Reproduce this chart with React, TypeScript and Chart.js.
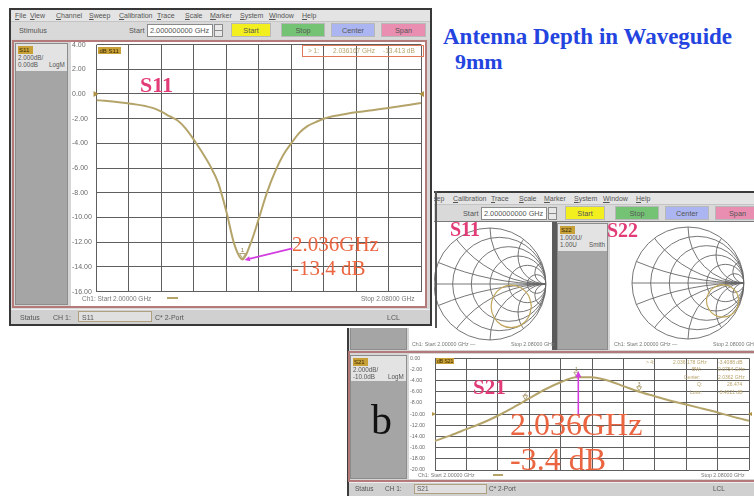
import React, { useEffect, useRef } from "react";
import { Chart, registerables } from "chart.js";
Chart.register(...registerables);

// ---------------- DATA ----------------
const s11Freq = [
  2.000, 2.002, 2.004, 2.006, 2.008, 2.010, 2.012, 2.014, 2.016, 2.018,
  2.020, 2.022, 2.024, 2.026, 2.028, 2.030, 2.032, 2.034, 2.036, 2.038,
  2.040, 2.042, 2.044, 2.046, 2.048, 2.050, 2.052, 2.054, 2.056, 2.058,
  2.060, 2.062, 2.064, 2.066, 2.068, 2.070, 2.072, 2.074, 2.076, 2.078, 2.080,
];
const s11Db = [
  -0.50, -0.55, -0.61, -0.68, -0.76, -0.86, -0.98, -1.14, -1.42, -1.80,
  -2.15, -2.80, -3.70, -4.70, -5.80, -7.20, -9.50, -12.20, -13.40, -12.10,
  -10.10, -8.00, -6.30, -4.95, -4.00, -3.15, -2.60, -2.28, -2.00, -1.82,
  -1.70, -1.58, -1.48, -1.40, -1.31, -1.22, -1.13, -1.04, -0.94, -0.83, -0.72,
];
const s11YTicks = [4, 2, 0, -2, -4, -6, -8, -10, -12, -14, -16];
const freqGrid = [2.000, 2.008, 2.016, 2.024, 2.032, 2.040, 2.048, 2.056, 2.064, 2.072, 2.080];

const s21Freq = [
  2.000, 2.004, 2.008, 2.012, 2.016, 2.020, 2.024, 2.028, 2.032, 2.036, 2.040,
  2.044, 2.048, 2.052, 2.056, 2.060, 2.064, 2.068, 2.072, 2.076, 2.080,
];
const s21Db = [
  -14.8, -13.8, -12.7, -11.6, -10.3, -8.8, -7.2, -5.6, -4.3, -3.4, -3.4,
  -4.0, -5.0, -6.0, -6.8, -7.6, -8.3, -9.0, -9.7, -10.5, -11.2,
];
const s21YTicks = [0, -2, -4, -6, -8, -10, -12, -14, -16, -18, -20];
const s21MarkerFreqs = [2.036, 2.023, 2.052];

const s11SmithRe = [0.74, 0.69, 0.56, 0.38, 0.20, 0.07, 0.02, 0.07, 0.20, 0.38, 0.56, 0.69, 0.74];
const s11SmithIm = [-0.40, -0.21, -0.07, -0.02, -0.07, -0.21, -0.40, -0.59, -0.73, -0.78, -0.73, -0.59, -0.40];
const s22SmithRe = [0.91, 0.87, 0.765, 0.62, 0.475, 0.37, 0.33, 0.37, 0.475, 0.62, 0.765, 0.87, 0.91];
const s22SmithIm = [-0.32, -0.175, -0.07, -0.03, -0.07, -0.175, -0.32, -0.465, -0.57, -0.61, -0.57, -0.465, -0.32];
const smithResistances = [0.2, 0.5, 1, 2, 5];
const smithReactances = [0.2, 0.5, 1, 2, 5];

const menuLabels = ["File", "View", "Channel", "Sweep", "Calibration", "Trace", "Scale", "Marker", "System", "Window", "Help"];
const buttonLabels = ["Start", "Stop", "Center", "Span"];

// ---------------- STYLE ----------------
const UI = '"Liberation Sans", Arial, sans-serif';
const SERIF = '"Liberation Serif", "Times New Roman", serif';
const GRID = "#5e5e5e";
const TRACE = "#b4a46a";
const PINK = "#e23c78";
const ORANGE = "#ea6540";
const MAGENTA = "#d23ee0";

const pts = (xs: number[], ys: number[]) => xs.map((x, i) => ({ x, y: ys[i] }));

function Txt({ x, base, size = 7, color = "#555", font = UI, weight = 400, children, style = {} }: any) {
  return (
    <div
      style={{
        position: "absolute",
        left: x,
        top: base - 0.845 * size,
        fontSize: size,
        lineHeight: 1,
        fontFamily: font,
        fontWeight: weight,
        color,
        whiteSpace: "nowrap",
        ...style,
      }}
    >
      {children}
    </div>
  );
}

function Box({ l, t, w, h, style = {}, children }: any) {
  return (
    <div style={{ position: "absolute", left: l, top: t, width: w, height: h, boxSizing: "border-box", ...style }}>
      {children}
    </div>
  );
}

function ChartCanvas({ left, top, width, height, make }: any) {
  const ref = useRef<HTMLCanvasElement>(null);
  useEffect(() => {
    const chart = new Chart(ref.current as HTMLCanvasElement, make());
    return () => chart.destroy();
  }, []);
  return (
    <canvas
      ref={ref}
      width={width}
      height={height}
      style={{ position: "absolute", left, top, width, height }}
    />
  );
}

// ---------------- PLUGINS ----------------
function refTriangles(chart: any, refDb: number, size: number) {
  const { ctx, scales, chartArea } = chart;
  const y = scales.y.getPixelForValue(refDb);
  ctx.save();
  ctx.fillStyle = "#b09345";
  ctx.beginPath();
  ctx.moveTo(chartArea.left - 3, y - size);
  ctx.lineTo(chartArea.left + size - 1, y);
  ctx.lineTo(chartArea.left - 3, y + size);
  ctx.fill();
  ctx.beginPath();
  ctx.moveTo(chartArea.right + 3, y - size);
  ctx.lineTo(chartArea.right - size + 1, y);
  ctx.lineTo(chartArea.right + 3, y + size);
  ctx.fill();
  ctx.restore();
}

function markerAt(chart: any, f: number, db: number, label: string, size: number) {
  const { ctx, scales } = chart;
  const x = scales.x.getPixelForValue(f);
  const y = scales.y.getPixelForValue(db);
  ctx.save();
  ctx.strokeStyle = "#9c8c50";
  ctx.lineWidth = 0.8;
  ctx.beginPath();
  ctx.moveTo(x, y - 1);
  ctx.lineTo(x - size * 0.6, y - size - 1);
  ctx.lineTo(x + size * 0.6, y - size - 1);
  ctx.closePath();
  ctx.stroke();
  ctx.fillStyle = "#8c7c48";
  ctx.font = `${size + 1}px ${UI}`;
  ctx.textAlign = "center";
  ctx.fillText(label, x, y - size - 2);
  ctx.restore();
}

function arrow(ctx: any, x0: number, y0: number, x1: number, y1: number, head: number) {
  const a = Math.atan2(y1 - y0, x1 - x0);
  ctx.save();
  ctx.strokeStyle = MAGENTA;
  ctx.fillStyle = MAGENTA;
  ctx.lineWidth = 1.6;
  ctx.beginPath();
  ctx.moveTo(x0, y0);
  ctx.lineTo(x1 - Math.cos(a) * head * 0.8, y1 - Math.sin(a) * head * 0.8);
  ctx.stroke();
  ctx.beginPath();
  ctx.moveTo(x1, y1);
  ctx.lineTo(x1 - head * Math.cos(a - 0.45), y1 - head * Math.sin(a - 0.45));
  ctx.lineTo(x1 - head * Math.cos(a + 0.45), y1 - head * Math.sin(a + 0.45));
  ctx.closePath();
  ctx.fill();
  ctx.restore();
}

const s11Overlay = {
  id: "s11Overlay",
  afterDatasetsDraw(chart: any) {
    refTriangles(chart, 0, 3);
    let mi = 0;
    s11Db.forEach((v, i) => { if (v < s11Db[mi]) mi = i; });
    markerAt(chart, s11Freq[mi], s11Db[mi], "1", 5);
    const { ctx, scales } = chart;
    arrow(
      ctx,
      scales.x.getPixelForValue(2.0483),
      scales.y.getPixelForValue(-12.5),
      scales.x.getPixelForValue(s11Freq[mi]) + 2,
      scales.y.getPixelForValue(s11Db[mi]) + 0.5,
      6
    );
  },
};

const s21Overlay = {
  id: "s21Overlay",
  afterDatasetsDraw(chart: any) {
    refTriangles(chart, -10, 2);
    const { ctx, scales } = chart;
    const interp = (f: number) => {
      for (let i = 0; i < s21Freq.length - 1; i++) {
        if (f >= s21Freq[i] && f <= s21Freq[i + 1]) {
          const t = (f - s21Freq[i]) / (s21Freq[i + 1] - s21Freq[i]);
          return s21Db[i] + t * (s21Db[i + 1] - s21Db[i]);
        }
      }
      return s21Db[0];
    };
    s21MarkerFreqs.forEach((f, i) => markerAt(chart, f, interp(f), String(i + 1), 4));
    const xp = scales.x.getPixelForValue(s21MarkerFreqs[0]) + 2;
    arrow(ctx, xp, scales.y.getPixelForValue(-10.3), xp, scales.y.getPixelForValue(-2.3), 7);
  },
};

const smithGrid = {
  id: "smithGrid",
  beforeDatasetsDraw(chart: any) {
    const { ctx, scales } = chart;
    const cx = scales.x.getPixelForValue(0);
    const cy = scales.y.getPixelForValue(0);
    const R = scales.x.getPixelForValue(1) - cx;
    ctx.save();
    ctx.strokeStyle = "#666";
    ctx.lineWidth = 0.9;
    ctx.beginPath();
    ctx.arc(cx, cy, R, 0, Math.PI * 2);
    ctx.stroke();
    ctx.beginPath();
    ctx.arc(cx, cy, R, 0, Math.PI * 2);
    ctx.clip();
    ctx.beginPath();
    ctx.moveTo(cx - R, cy);
    ctx.lineTo(cx + R, cy);
    ctx.stroke();
    smithResistances.forEach((r) => {
      ctx.beginPath();
      ctx.arc(cx + (r / (1 + r)) * R, cy, R / (1 + r), 0, Math.PI * 2);
      ctx.stroke();
    });
    smithReactances.forEach((xv) => {
      [1, -1].forEach((s) => {
        ctx.beginPath();
        ctx.arc(cx + R, cy - (s * R) / xv, R / xv, 0, Math.PI * 2);
        ctx.stroke();
      });
    });
    ctx.restore();
  },
};

// ---------------- CHART CONFIGS ----------------
function lineConfig(opts: any) {
  const { freq, db, yTicks, yMin, yMax, axisW, pad, fontSize, plugin } = opts;
  return {
    type: "line",
    data: {
      datasets: [
        {
          data: pts(freq, db),
          borderColor: TRACE,
          borderWidth: 2,
          pointRadius: 0,
          cubicInterpolationMode: "monotone",
        },
      ],
    },
    options: {
      animation: false,
      responsive: false,
      events: [],
      layout: { padding: pad },
      plugins: { legend: { display: false }, tooltip: { enabled: false } },
      scales: {
        x: {
          type: "linear",
          min: freqGrid[0],
          max: freqGrid[freqGrid.length - 1],
          afterBuildTicks: (s: any) => { s.ticks = freqGrid.map((v) => ({ value: v })); },
          ticks: { display: false },
          grid: { color: GRID, lineWidth: 1, drawTicks: false },
          border: { display: false },
        },
        y: {
          type: "linear",
          min: yMin,
          max: yMax,
          afterBuildTicks: (s: any) => { s.ticks = yTicks.map((v: number) => ({ value: v })); },
          afterFit: (s: any) => { s.width = axisW; },
          ticks: {
            callback: (v: any) => Number(v).toFixed(2),
            crossAlign: "far",
            padding: 0,
            color: "#6a6a6a",
            font: { family: "Liberation Sans", size: fontSize },
          },
          grid: { color: GRID, lineWidth: 1, drawTicks: false },
          border: { display: false },
        },
      },
    },
    plugins: [plugin],
  };
}

function smithConfig(re: number[], im: number[], ext: number) {
  return {
    type: "scatter",
    data: {
      datasets: [
        {
          data: pts(re, im),
          showLine: true,
          borderColor: "#c0a75c",
          borderWidth: 1.2,
          pointRadius: 0,
          tension: 0.4,
        },
      ],
    },
    options: {
      animation: false,
      responsive: false,
      events: [],
      layout: { padding: 0 },
      plugins: { legend: { display: false }, tooltip: { enabled: false } },
      scales: {
        x: { type: "linear", min: -ext, max: ext, display: false },
        y: { type: "linear", min: -ext, max: ext, display: false },
      },
    },
    plugins: [smithGrid],
  };
}

// ---------------- WINDOW CHROME ----------------
const menuX = [15, 30, 56, 89, 119, 157, 185, 210, 240, 269, 302];
const btnX = [231, 281, 331, 381];
const btnW = [40, 44, 44, 45];
const btnC = ["#f3ef1e", "#74c374", "#abb5f1", "#e98db1"];

function Chrome({ ox, oy }: any) {
  return (
    <>
      <Box l={ox + 11} t={oy + 10} w={419} h={11} style={{ background: "#e4e4e4" }} />
      {menuLabels.map((m, i) => (
        <Txt key={m} x={ox + menuX[i]} base={oy + 18} size={7} color="#555">
          <span style={{ textDecoration: "underline" }}>{m[0]}</span>
          {m.slice(1)}
        </Txt>
      ))}
      <Box l={ox + 11} t={oy + 21} w={419} h={18} style={{ background: "#d9d9d9", borderTop: "1px solid #c4c4c4" }} />
      <Txt x={ox + 19} base={oy + 33} size={7.3} color="#555">Stimulus</Txt>
      <Txt x={ox + 129} base={oy + 33} size={7.3} color="#555">Start</Txt>
      <Box l={ox + 147} t={oy + 24} w={66} h={13} style={{ background: "#fff", border: "1px solid #8a8a8a" }} />
      <Txt x={ox + 150} base={oy + 33} size={7.3} color="#555">2.000000000 GHz</Txt>
      <Box l={ox + 214} t={oy + 24} w={9} h={13} style={{ background: "#e8e8e8", border: "1px solid #8a8a8a" }} />
      <Box l={ox + 214} t={oy + 30} w={9} h={1} style={{ background: "#8a8a8a" }} />
      {buttonLabels.map((b, i) => (
        <Box key={b} l={ox + btnX[i]} t={oy + 23} w={btnW[i]} h={14} style={{ background: btnC[i], border: "1px solid #b8b8b8" }}>
          <div style={{ position: "absolute", left: 0, right: 0, top: 3, textAlign: "center", font: `7.3px ${UI}`, color: "#555", lineHeight: 1 }}>{b}</div>
        </Box>
      ))}
    </>
  );
}

function ChannelPanel({ l, t, w, h, tag, line1, line2, line2r, headerH = 27 }: any) {
  return (
    <Box l={l} t={t} w={w} h={h} style={{ background: "#a5a5a5", border: "1px solid #8c8c8c" }}>
      <Box l={0} t={0} w={w - 2} h={headerH} style={{ background: "#e3e3e3" }} />
      <Box l={2} t={2} w={15} h={8} style={{ background: "#c7a038" }}>
        <div style={{ position: "absolute", left: 1, top: 1, font: `6px ${UI}`, lineHeight: 1, color: "#3a2a00" }}>{tag}</div>
      </Box>
      <Txt x={2} base={16} size={6.3} color="#555">{line1}</Txt>
      <Txt x={2} base={23} size={6.3} color="#555">{line2}</Txt>
      <Txt x={w - 20} base={23} size={6.3} color="#555">{line2r}</Txt>
    </Box>
  );
}

// ---------------- APP ----------------
export default function App() {
  return (
    <div style={{ position: "absolute", left: 0, top: 0, width: 754, height: 496, background: "#fff", overflow: "hidden", filter: "blur(0.35px)" }}>
      {/* Title */}
      <Txt x={443} base={44} size={23} font={SERIF} weight={700} color="#2444e0">Antenna Depth in Waveguide</Txt>
      <Txt x={455} base={70} size={22} font={SERIF} weight={700} color="#2444e0">9mm</Txt>

      {/* ---------- Second window (b) ---------- */}
      <Box l={347} t={191} w={430} h={320} style={{ background: "#d6d6d6", border: "2px solid #3c3c3c" }} />
      <Chrome ox={334} oy={183} />
      <Box l={349} t={221} w={405} h={1} style={{ background: "#7a7a7a" }} />
      {/* S11 smith channel */}
      <ChannelPanel l={350} t={223} w={57} h={127} tag="S11" line1="1.000U/" line2="1.00U" line2r="Smith" />
      <Box l={409} t={222} w={143} h={128} style={{ background: "#fff" }} />
      <Box l={552} t={222} w={5} h={128} style={{ background: "#5a5a5a" }} />
      <ChartCanvas left={432} top={226} width={116} height={116} make={() => smithConfig(s11SmithRe, s11SmithIm, 58 / 56)} />
      <Txt x={412} base={346} size={5.3} color="#777">Ch1: Start 2.00000 GHz —</Txt>
      <Txt x={511} base={346} size={5.3} color="#777">Stop 2.08000 GHz</Txt>
      {/* S22 smith channel */}
      <ChannelPanel l={557} t={223} w={51} h={127} tag="S22" line1="1.000U/" line2="1.00U" line2r="Smith" />
      <Box l={610} t={222} w={150} h={128} style={{ background: "#fff" }} />
      <ChartCanvas left={630} top={225} width={116} height={116} make={() => smithConfig(s22SmithRe, s22SmithIm, 58 / 56)} />
      <Txt x={614} base={346} size={5.3} color="#777">Ch1: Start 2.00000 GHz —</Txt>
      <Txt x={713} base={346} size={5.3} color="#777">Stop 2.08000 GHz</Txt>
      <Txt x={450} base={236} size={20} font={SERIF} weight={700} color={PINK}>S11</Txt>
      <Txt x={607} base={237} size={20} font={SERIF} weight={700} color={PINK}>S22</Txt>

      {/* S21 channel */}
      <Box l={348} t={351} w={420} h={131} style={{ border: "2px solid #b47a7a", background: "#d6d6d6" }} />
      <ChannelPanel l={350} t={355} w={57} h={124} tag="S21" line1="2.000dB/" line2="-10.0dB" line2r="LogM" headerH={25} />
      <Txt x={371} base={434} size={42} font={SERIF} color="#111">b</Txt>
      <Box l={409} t={354} w={350} h={125} style={{ background: "#fff" }} />
      <ChartCanvas
        left={410}
        top={355}
        width={344}
        height={123}
        make={() =>
          lineConfig({
            freq: s21Freq, db: s21Db, yTicks: s21YTicks, yMin: -20, yMax: 0, axisW: 25,
            pad: { left: 0, top: 3, right: 5, bottom: 8 }, fontSize: 5.3, plugin: s21Overlay,
          })
        }
      />
      <Box l={436} t={358} w={18} h={6} style={{ background: "#c7a038" }}>
        <div style={{ position: "absolute", left: 1, top: 0.5, font: `5px ${UI}`, lineHeight: 1, color: "#3a2a00" }}>dB S21</div>
      </Box>
      <Txt x={646} base={364} size={5} color="#b9a36c">&gt; 4:</Txt>
      <Txt x={673} base={364} size={5} color="#b9a36c">2.036 178 GHz</Txt>
      <Txt x={718} base={364} size={5} color="#b9a36c">-3.4088 dB</Txt>
      <Txt x={692} base={371} size={5} color="#b9a36c">BW:</Txt>
      <Txt x={718} base={371} size={5} color="#b9a36c">0.0754 GHz</Txt>
      <Txt x={684} base={379} size={5} color="#b9a36c">Center:</Txt>
      <Txt x={718} base={379} size={5} color="#b9a36c">2.0362 GHz</Txt>
      <Txt x={697} base={386} size={5} color="#b9a36c">Q:</Txt>
      <Txt x={727} base={386} size={5} color="#b9a36c">26.474</Txt>
      <Txt x={690} base={394} size={5} color="#b9a36c">Loss:</Txt>
      <Txt x={718} base={394} size={5} color="#b9a36c">-3.4021 dB</Txt>
      <Txt x={418} base={477} size={5.3} color="#777">Ch1: Start 2.00000 GHz</Txt>
      <Box l={493} t={474} w={10} h={1.5} style={{ background: TRACE }} />
      <Txt x={701} base={477} size={5.3} color="#777">Stop 2.08000 GHz</Txt>
      <Txt x={473} base={395} size={21} font={SERIF} weight={700} color={PINK}>S21</Txt>
      <Txt x={510} base={435} size={32} font={SERIF} color={ORANGE}>2.036GHz</Txt>
      <Txt x={510} base={470} size={32} font={SERIF} color={ORANGE}>-3.4 dB</Txt>
      {/* status bar b */}
      <Box l={349} t={482} w={410} h={14} style={{ background: "#d0d0d0", borderTop: "1px solid #efefef" }} />
      <Txt x={355} base={491} size={6.5} color="#555">Status</Txt>
      <Txt x={385} base={491} size={6.5} color="#555">CH 1:</Txt>
      <Box l={414} t={484} w={73} h={10} style={{ background: "#e0e0e0", border: "1px solid #b0a080" }} />
      <Txt x={417} base={491} size={6.5} color="#555">S21</Txt>
      <Txt x={489} base={491} size={6.5} color="#555">C* 2-Port</Txt>
      <Txt x={713} base={491} size={6.5} color="#555">LCL</Txt>

      {/* frame line of upper crop */}
      <Box l={435} t={191} w={2} h={137} style={{ background: "#555" }} />

      {/* ---------- Main window ---------- */}
      <Box l={7} t={6} w={427} h={322} style={{ background: "#fff" }} />
      <Box l={9} t={8} w={423} h={318} style={{ background: "#d6d6d6", border: "2px solid #383838" }} />
      <Chrome ox={0} oy={0} />
      <Box l={12} t={40} w={415} h={268} style={{ border: "2px solid #b47a7a", background: "#d6d6d6" }} />
      <ChannelPanel l={15} t={43} w={53} h={262} tag="S11" line1="2.000dB/" line2="0.00dB" line2r="LogM" />
      <Box l={71} t={42} w={354} h={264} style={{ background: "#fff" }} />
      <ChartCanvas
        left={72}
        top={40}
        width={353}
        height={265}
        make={() =>
          lineConfig({
            freq: s11Freq, db: s11Db, yTicks: s11YTicks, yMin: -16, yMax: 4, axisW: 24.5,
            pad: { left: 0, top: 4.6, right: 4, bottom: 13.4 }, fontSize: 7, plugin: s11Overlay,
          })
        }
      />
      <Box l={98} t={47} w={23} h={7} style={{ background: "#c7a038" }}>
        <div style={{ position: "absolute", left: 1.5, top: 0.5, font: `6px ${UI}`, lineHeight: 1, color: "#3a2a00" }}>dB S11</div>
      </Box>
      <Box l={302} t={45} w={122} h={12} style={{ border: "1px solid #e27a58" }} />
      <Txt x={308} base={53.5} size={6.5} color="#b9a36c">&gt; 1:</Txt>
      <Txt x={333} base={53.5} size={6.5} color="#b9a36c">2.036167 GHz</Txt>
      <Txt x={383} base={53.5} size={6.5} color="#b9a36c">-13.413 dB</Txt>
      <Txt x={82} base={301} size={6.5} color="#777">Ch1: Start  2.00000 GHz</Txt>
      <Box l={167} t={297} w={11} h={1.5} style={{ background: TRACE }} />
      <Txt x={361} base={301} size={6.5} color="#777">Stop  2.08000 GHz</Txt>
      <Txt x={140} base={93} size={22} font={SERIF} weight={700} color={PINK}>S11</Txt>
      <Txt x={292} base={252} size={21} font={SERIF} color={ORANGE}>2.036GHz</Txt>
      <Txt x={292} base={276} size={21} font={SERIF} color={ORANGE}>-13.4 dB</Txt>
      {/* status bar main */}
      <Box l={11} t={309} w={419} h={15} style={{ background: "#d0d0d0", borderTop: "1px solid #efefef" }} />
      <Txt x={20} base={320} size={7} color="#555">Status</Txt>
      <Txt x={53} base={320} size={7} color="#555">CH 1:</Txt>
      <Box l={78} t={311} w={74} h={11} style={{ background: "#e0e0e0", border: "1px solid #b0a080" }} />
      <Txt x={82} base={320} size={7} color="#555">S11</Txt>
      <Txt x={155} base={320} size={7} color="#555">C* 2-Port</Txt>
      <Txt x={387} base={320} size={7} color="#555">LCL</Txt>
    </div>
  );
}
